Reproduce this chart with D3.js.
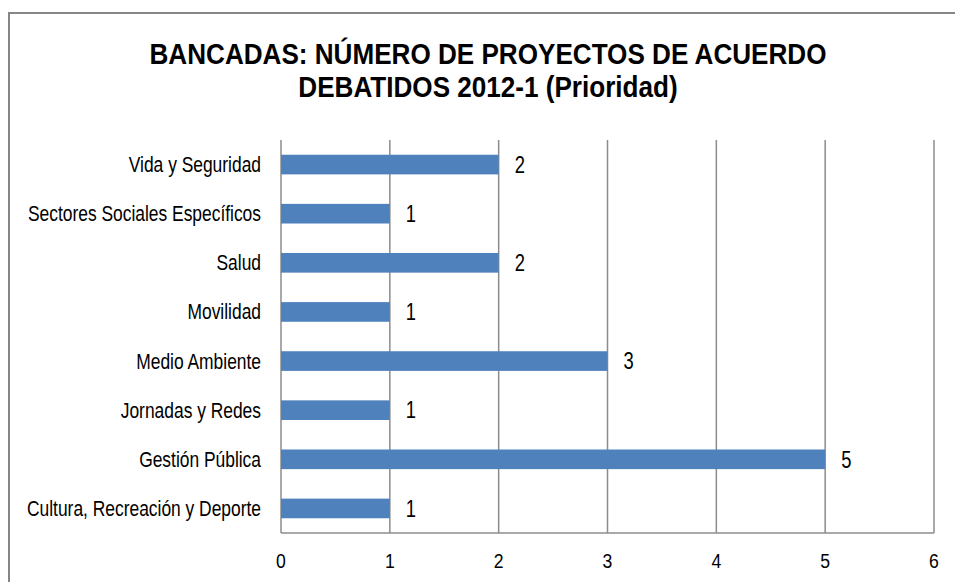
<!DOCTYPE html>
<html>
<head>
<meta charset="utf-8">
<script src="https://cdn.jsdelivr.net/npm/d3@7"></script>
<style>
  body { margin: 0; background: #fff; }
  svg { display: block; }
  text { font-family: "Liberation Sans", Arial, sans-serif; fill: #000; }
</style>
</head>
<body>
<svg width="955" height="582"></svg>
<script>
var categories = ['Vida y Seguridad', 'Sectores Sociales Específicos', 'Salud', 'Movilidad',
                  'Medio Ambiente', 'Jornadas y Redes', 'Gestión Pública', 'Cultura, Recreación y Deporte'];
var values = [2, 1, 2, 1, 3, 1, 5, 1];
var ticks = [0, 1, 2, 3, 4, 5, 6];
var titleLines = ['BANCADAS: NÚMERO DE PROYECTOS DE ACUERDO', 'DEBATIDOS 2012-1 (Prioridad)'];

var svg = d3.select('svg');
var plotLeft = 281, plotRight = 934, plotTop = 140, plotBottom = 533;
var grey = '#8c8c8c';

// no Arial Narrow here, so squeeze Liberation Sans sideways
var squeeze = function(sel, fx, fy, s){
  sel.attr('transform', function(d, i){
    return 'translate(' + fx(d, i) + ',' + fy(d, i) + ') scale(' + s + ',1)';
  });
};

// chart frame
svg.append('rect')
  .attr('x', 9).attr('y', 13)
  .attr('width', 980).attr('height', 620)
  .attr('fill', 'none').attr('stroke', '#868686').attr('stroke-width', 2);

var title = svg.selectAll('.title').data(titleLines).enter().append('text')
  .attr('class', 'title')
  .attr('text-anchor', 'middle')
  .attr('font-size', 29)
  .attr('font-weight', 'bold')
  .text(function(d){ return d; });
squeeze(title, function(){ return 488; }, function(d, i){ return 64 + i * 33; }, 0.9);

var x = d3.scaleLinear().domain([0, 6]).range([plotLeft, plotRight]);
var y = d3.scaleBand().domain(categories).range([plotTop, plotBottom])
  .paddingInner(0.6).paddingOuter(0.3);

// gridlines
svg.selectAll('.grid').data(ticks).enter().append('line')
  .attr('x1', function(d){ return x(d); })
  .attr('x2', function(d){ return x(d); })
  .attr('y1', plotTop).attr('y2', plotBottom)
  .attr('stroke', grey).attr('stroke-width', 1.5);

// bottom axis line
svg.append('line')
  .attr('x1', plotLeft).attr('x2', plotRight)
  .attr('y1', plotBottom).attr('y2', plotBottom)
  .attr('stroke', grey).attr('stroke-width', 1.5);

var tickText = svg.selectAll('.tick-label').data(ticks).enter().append('text')
  .attr('text-anchor', 'middle')
  .attr('font-size', 21)
  .text(d3.format('d'));
squeeze(tickText, function(d){ return x(d); }, function(){ return 568; }, 0.84);

// category labels
var catText = svg.selectAll('.cat').data(categories).enter().append('text')
  .attr('text-anchor', 'end')
  .attr('dy', '0.35em')
  .attr('font-size', 21.5)
  .text(function(d){ return d; });
squeeze(catText, function(){ return 261; }, function(d){ return y(d) + y.bandwidth() / 2; }, 0.81);

// bars
svg.selectAll('.bar').data(values).enter().append('rect')
  .attr('x', x(0))
  .attr('y', function(d, i){ return y(categories[i]); })
  .attr('width', function(d){ return x(d) - x(0); })
  .attr('height', y.bandwidth())
  .attr('fill', '#4f81bd');

// value labels
var valText = svg.selectAll('.val').data(values).enter().append('text')
  .attr('dy', '0.36em')
  .attr('font-size', 23)
  .text(function(d){ return d; });
squeeze(valText, function(d){ return x(d) + 16; }, function(d, i){ return y(categories[i]) + y.bandwidth() / 2; }, 0.8);
</script>
</body>
</html>
